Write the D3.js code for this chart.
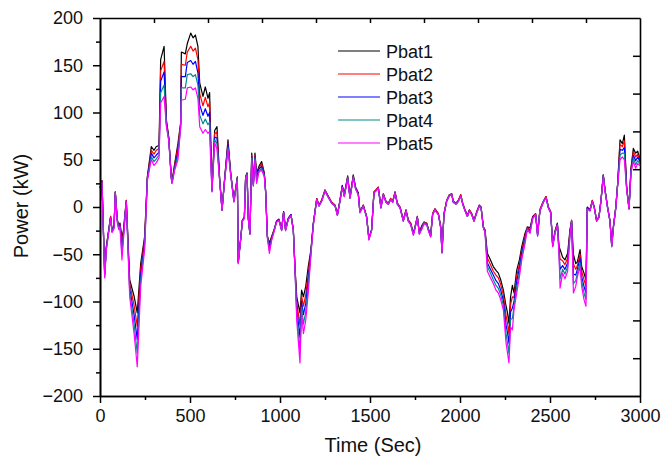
<!DOCTYPE html>
<html>
<head>
<meta charset="utf-8">
<script src="https://cdn.jsdelivr.net/npm/d3@7"></script>
<style>
  html, body { margin: 0; padding: 0; background: #fff; }
  svg { display: block; font-family: "Liberation Sans", Arial, sans-serif; }
</style>
</head>
<body>
<svg id="chart" width="663" height="462"></svg>
<script>
const time = [0,11,26,35,59,67,78,85,96,104,111,122,130,146,165,190,207,226,248,263,285,300,313,328,337,356,369,382,396,400,415,433,448,452,474,485,504,517,530,544,554,572,585,600,609,622,637,650,665,678,692,711,726,744,763,768,783,791,802,809,817,824,833,843,852,861,870,883,898,913,920,930,941,954,969,981,994,1009,1020,1031,1046,1061,1074,1083,1093,1111,1120,1130,1143,1157,1172,1185,1204,1217,1231,1250,1269,1287,1306,1319,1333,1346,1357,1376,1389,1407,1420,1435,1444,1463,1481,1494,1509,1522,1533,1546,1561,1574,1589,1602,1615,1626,1639,1652,1667,1685,1700,1713,1726,1741,1750,1763,1774,1787,1800,1815,1824,1837,1848,1861,1880,1893,1900,1911,1926,1941,1954,1963,1978,1991,2004,2015,2028,2041,2052,2065,2078,2093,2107,2117,2130,2139,2152,2167,2185,2200,2213,2226,2241,2256,2263,2272,2281,2291,2300,2315,2330,2343,2361,2374,2389,2404,2420,2431,2444,2463,2478,2491,2504,2515,2528,2541,2550,2556,2570,2583,2598,2611,2620,2630,2643,2652,2667,2676,2689,2700,2707,2722,2735,2746,2759,2772,2783,2796,2806,2820,2833,2843,2852,2865,2876,2889,2902,2913,2926,2939,2950,2963,2976,2987,3000];

const pbat1 = [20,28,-70,-42,-10,-25,-20,16,-13,-20,-17,-32,-25,7,-77,-95,-112,-60,-31,32,64,60,64,65,156,170,92,74,32,27,46,67,89,164,162,173,184,179,182,170,131,117,127,115,121,18,81,85,29,-3,29,71,36,7,32,-58,-31,-14,-11,32,36,-12,-28,57,25,57,36,43,48,36,18,-31,-38,-31,-23,-15,-13,-24,-5,-24,-12,-8,-24,-63,-95,-112,-88,-95,-84,-63,-45,-17,9,2,7,18,11,5,2,-8,7,23,13,33,11,34,21,15,-5,2,-10,-33,-24,16,18,21,0,14,6,4,9,6,16,4,0,-14,-3,-14,-17,-28,-21,-10,-27,-20,-16,-17,-23,-30,-7,-2,-7,-21,-47,-7,7,13,14,6,4,7,13,4,-3,-9,-3,-7,-14,-5,2,0,-21,-24,-49,-55,-63,-67,-70,-77,-88,-105,-111,-123,-95,-83,-91,-67,-56,-42,-28,-21,-22,-10,-7,-28,-3,6,11,0,-5,-40,-25,-17,-42,-45,-53,-56,-49,-24,-14,-50,-60,-58,-45,-63,-70,-77,0,-3,7,0,-14,-10,7,34,18,0,-14,-40,-21,-1,25,71,67,76,21,-1,41,62,57,59,51];

const pbat2 = [20,28,-71,-43,-10,-25,-21,16,-14,-21,-18,-38,-27,7,-81,-105,-126,-66,-34,31,60,56,60,62,144,154,90,73,32,26,44,63,88,151,150,164,170,165,168,156,120,107,116,106,111,18,78,79,29,-3,29,68,36,7,31,-58,-31,-14,-11,32,36,-12,-28,55,24,55,33,41,46,35,17,-31,-41,-32,-23,-15,-13,-24,-5,-24,-12,-8,-24,-63,-101,-125,-94,-105,-93,-70,-46,-18,9,2,7,18,11,5,2,-8,7,22,12,32,10,33,20,14,-5,2,-10,-33,-24,16,18,21,0,14,6,4,9,6,16,4,0,-14,-3,-14,-17,-28,-21,-10,-27,-21,-16,-17,-23,-30,-7,-2,-7,-21,-47,-7,7,13,14,6,4,7,13,4,-3,-9,-3,-7,-14,-5,2,0,-21,-25,-54,-60,-68,-72,-75,-82,-93,-115,-122,-134,-103,-95,-96,-73,-61,-46,-31,-22,-24,-11,-7,-29,-3,6,11,0,-5,-41,-26,-18,-44,-55,-57,-61,-54,-26,-14,-60,-66,-62,-50,-68,-77,-84,-1,-3,7,0,-14,-10,7,34,18,0,-14,-41,-21,-1,25,66,64,70,20,-1,40,59,53,56,49];

const pbat3 = [20,27,-72,-44,-11,-26,-21,15,-14,-22,-19,-44,-30,6,-86,-115,-140,-72,-38,30,57,52,55,58,133,143,88,72,31,26,42,58,86,138,138,153,155,151,154,142,108,97,104,96,100,17,74,73,28,-3,28,66,35,6,30,-59,-31,-14,-11,31,35,-12,-28,53,23,53,30,40,43,34,17,-32,-43,-33,-24,-15,-13,-24,-5,-24,-12,-8,-24,-64,-107,-138,-100,-114,-102,-77,-47,-18,8,1,6,17,10,4,1,-8,6,22,12,31,10,32,20,14,-5,1,-10,-34,-24,15,17,20,-1,13,5,3,8,5,15,3,-1,-15,-4,-15,-18,-29,-22,-11,-28,-22,-17,-18,-24,-31,-8,-3,-8,-22,-48,-8,6,12,13,5,3,6,12,3,-4,-10,-4,-8,-15,-6,1,-1,-22,-26,-59,-65,-72,-78,-81,-88,-99,-125,-132,-144,-111,-107,-100,-79,-65,-49,-34,-23,-25,-11,-8,-30,-4,5,10,-1,-6,-41,-27,-18,-46,-66,-62,-66,-59,-27,-15,-71,-72,-66,-54,-74,-84,-91,-1,-4,6,-1,-15,-11,6,33,17,-1,-15,-41,-22,-2,24,61,60,63,20,-2,39,55,49,53,48];

const pbat4 = [20,27,-74,-45,-11,-26,-22,15,-15,-23,-20,-50,-32,6,-90,-125,-155,-78,-41,29,53,48,51,55,121,129,87,71,31,25,41,54,85,126,126,140,141,138,140,129,97,88,93,87,90,17,71,67,28,-3,28,63,35,6,30,-59,-32,-15,-12,31,35,-13,-29,52,23,52,28,38,41,33,16,-32,-46,-34,-24,-16,-14,-25,-6,-25,-13,-9,-25,-64,-114,-152,-106,-124,-111,-84,-49,-19,8,1,6,17,10,4,1,-9,6,21,11,31,9,32,19,13,-6,1,-11,-34,-25,15,17,20,-1,13,5,3,8,5,15,3,-1,-15,-4,-15,-18,-29,-22,-11,-28,-23,-17,-18,-24,-31,-8,-3,-8,-22,-48,-8,6,12,13,5,3,6,12,3,-4,-10,-4,-8,-15,-6,1,-1,-22,-26,-63,-69,-77,-83,-86,-93,-104,-134,-143,-155,-119,-118,-105,-85,-70,-53,-36,-23,-27,-12,-8,-30,-4,5,10,-1,-6,-42,-27,-19,-48,-76,-66,-71,-63,-29,-15,-81,-78,-70,-59,-79,-91,-98,-2,-4,6,-1,-15,-11,6,33,17,-1,-15,-42,-22,-2,24,55,57,57,19,-2,37,52,45,49,46];

const pbat5 = [20,26,-75,-46,-12,-27,-23,15,-16,-24,-21,-56,-35,6,-95,-135,-169,-84,-45,28,50,44,47,52,110,117,85,70,30,25,39,50,84,113,114,126,127,124,126,115,85,78,82,78,80,16,68,61,27,-3,27,61,34,5,29,-60,-32,-15,-12,30,34,-13,-29,50,22,50,25,37,39,32,16,-33,-49,-35,-25,-16,-14,-25,-6,-25,-13,-9,-25,-65,-120,-165,-112,-134,-120,-91,-50,-20,8,1,6,17,10,4,1,-9,6,21,11,30,9,31,19,13,-6,1,-11,-35,-25,15,17,20,-1,13,5,3,8,5,15,3,-1,-15,-4,-15,-19,-30,-23,-11,-29,-24,-18,-19,-25,-32,-8,-3,-8,-22,-49,-8,6,12,13,5,3,6,12,3,-4,-10,-4,-8,-15,-6,1,-1,-22,-27,-68,-74,-81,-88,-91,-98,-109,-144,-153,-165,-127,-130,-109,-91,-74,-56,-39,-24,-28,-12,-8,-31,-4,5,10,-1,-6,-42,-28,-19,-50,-86,-70,-76,-68,-30,-15,-91,-84,-74,-63,-84,-98,-105,-2,-4,6,-1,-15,-11,6,32,16,-1,-15,-42,-22,-2,23,50,53,50,18,-2,36,48,41,46,44];

const seriesNames = ["Pbat1", "Pbat2", "Pbat3", "Pbat4", "Pbat5"];
const seriesColors = ["#000000", "#ff0000", "#0000ff", "#008b8b", "#ff00ff"];
const xTicks = [0, 500, 1000, 1500, 2000, 2500, 3000];
const yTicks = [-200, -150, -100, -50, 0, 50, 100, 150, 200];

const allSeries = [pbat1, pbat2, pbat3, pbat4, pbat5];

const svg = d3.select("#chart");
const L = 100, R = 640, T = 18, B = 396;
const x = d3.scaleLinear().domain([0, 3000]).range([L, R]);
const y = d3.scaleLinear().domain([-200, 200]).range([B, T]);
const font = '"Liberation Sans", Arial, sans-serif';

// lines
const line = d3.line().x((d, i) => x(time[i])).y(d => y(d));
allSeries.forEach((s, k) => {
  svg.append("path").datum(s)
    .attr("fill", "none")
    .attr("stroke", seriesColors[k])
    .attr("stroke-width", 1.2)
    .attr("stroke-linejoin", "round")
    .attr("d", line);
});

// axes
function styleAxis(g) {
  g.selectAll("path").attr("stroke", "#000").attr("stroke-width", 1.6);
  g.selectAll("line").attr("stroke", "#000").attr("stroke-width", 1.5);
  g.selectAll("text").attr("font-family", font).attr("font-size", 18).attr("fill", "#111");
}

const xMinor = d3.range(250, 3000, 500);
const yMinor = d3.range(-175, 200, 50);

svg.append("g").attr("transform", `translate(0,${B})`)
  .call(d3.axisBottom(x).tickValues(xMinor).tickSize(4).tickFormat("").tickSizeOuter(0))
  .call(styleAxis);
svg.append("g").attr("transform", `translate(0,${B})`)
  .call(d3.axisBottom(x).tickValues(xTicks).tickSize(7).tickPadding(6).tickSizeOuter(0).tickFormat(d3.format("d")))
  .call(styleAxis);

svg.append("g").attr("transform", `translate(${L},0)`)
  .call(d3.axisLeft(y).tickValues(yMinor).tickSize(4).tickFormat("").tickSizeOuter(0))
  .call(styleAxis);
svg.append("g").attr("transform", `translate(${L},0)`)
  .call(d3.axisLeft(y).tickValues(yTicks).tickSize(7).tickPadding(10).tickSizeOuter(0).tickFormat(d3.format("d")))
  .call(styleAxis);

// top axis, inward ticks every 300
svg.append("g").attr("transform", `translate(0,${T})`)
  .call(d3.axisTop(x).tickValues(d3.range(300, 3000, 300)).tickSize(-5).tickFormat("").tickSizeOuter(0))
  .call(styleAxis);
// right axis, inward ticks every 40
svg.append("g").attr("transform", `translate(${R},0)`)
  .call(d3.axisRight(y).tickValues(d3.range(-160, 200, 40)).tickSize(-7).tickFormat("").tickSizeOuter(0))
  .call(styleAxis);

// axis titles
svg.append("text").attr("x", 373).attr("y", 452)
  .attr("text-anchor", "middle").attr("font-family", font).attr("font-size", 20).attr("fill", "#111")
  .text("Time (Sec)");
svg.append("text").attr("transform", "translate(28,206) rotate(-90)")
  .attr("text-anchor", "middle").attr("font-family", font).attr("font-size", 20).attr("fill", "#111")
  .text("Power (kW)");

// legend
const legY0 = 51, legDy = 23;
seriesNames.forEach((n, k) => {
  const yy = legY0 + k * legDy;
  svg.append("line").attr("x1", 338).attr("x2", 380).attr("y1", yy).attr("y2", yy)
    .attr("stroke", seriesColors[k]).attr("stroke-width", 1.2);
  svg.append("text").attr("x", 386).attr("y", yy + 6.5)
    .attr("font-family", font).attr("font-size", 18).attr("fill", "#111").text(n);
});
</script>
</body>
</html>
